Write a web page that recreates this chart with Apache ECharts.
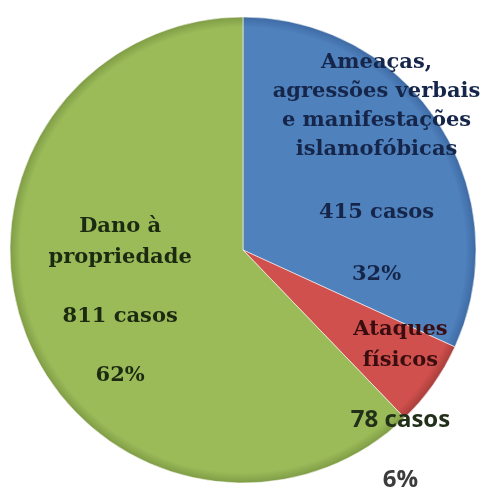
<!DOCTYPE html>
<html>
<head>
<meta charset="utf-8">
<script src="https://cdn.jsdelivr.net/npm/echarts@6/dist/echarts.min.js"></script>
<style>
  html, body { margin: 0; padding: 0; background: #ffffff; }
  #chart { width: 486px; height: 488px; }
</style>
</head>
<body>
<div id="chart"></div>
<script>
// Categories, case counts and shown percentages
const categories = [
  'Ameaças,\nagressões verbais\ne manifestações\nislamofóbicas',
  'Ataques\nfísicos',
  'Dano à\npropriedade'
];
const casos = [415, 78, 811];
const percentuais = ['32%', '6%', '62%'];

// Slice colours (base fill and darker rim)
const baseColors = ['#4f81bd', '#d0504d', '#9bbb59'];
const rimColors = ['#3e6aa3', '#a83e3b', '#7f9c45'];

// Per-slice label styling: nudge from the default inside position,
// line heights, text colours and the font used for the figures
const labelStyles = [
  { offset: [33, -16.5], lh: 29, gap: 33.5, nameColor: '#15264a', valColor: '#15264a', pctColor: '#15264a', valFont: 'DejaVu Serif', valSize: 21 },
  { offset: [60, 86], lh: 31, gap: 29, nameColor: '#3a0e10', valColor: '#22301a', pctColor: '#3c3c3c', valFont: 'Open Sans', valSize: 24 },
  { offset: [-12, 6], lh: 31, gap: 28, nameColor: '#1d2a12', valColor: '#1d2a12', pctColor: '#1d2a12', valFont: 'DejaVu Serif', valSize: 21 }
];

const CX = 243, CY = 250, R = 233;
const FONT_SIZE = 21;

const chart = echarts.init(document.getElementById('chart'), null, { renderer: 'canvas' });

const data = categories.map((name, i) => {
  const s = labelStyles[i];
  const lines = name.split('\n').map(t => '{n|' + t + '}');
  return {
    name: name,
    value: casos[i],
    itemStyle: {
      color: new echarts.graphic.RadialGradient(CX, CY, R, [
        { offset: 0, color: baseColors[i] },
        { offset: 0.955, color: baseColors[i] },
        { offset: 1, color: rimColors[i] }
      ], true)
    },
    label: {
      offset: s.offset,
      formatter: lines.join('\n') + '\n{b| }\n{v|' + casos[i] + ' casos}\n{b| }\n{p|' + percentuais[i] + '}',
      rich: {
        n: { fontFamily: 'DejaVu Serif', fontWeight: 'bold', fontSize: FONT_SIZE, lineHeight: s.lh, color: s.nameColor, align: 'center' },
        b: { fontSize: 4, lineHeight: s.gap },
        v: { fontFamily: s.valFont, fontWeight: 'bold', fontSize: s.valSize, lineHeight: s.lh, color: s.valColor, align: 'center' },
        p: { fontFamily: s.valFont, fontWeight: 'bold', fontSize: s.valSize, lineHeight: s.lh, color: s.pctColor, align: 'center' }
      }
    }
  };
});

chart.setOption({
  animation: false,
  backgroundColor: '#ffffff',
  series: [{
    type: 'pie',
    center: [CX, CY],
    radius: [0, R],
    startAngle: 90,
    clockwise: true,
    avoidLabelOverlap: false,
    labelLine: { show: false },
    itemStyle: { borderColor: 'rgba(255,255,255,0.55)', borderWidth: 1 },
    label: { show: true, position: 'inside', align: 'center' },
    data: data
  }]
});
</script>
</body>
</html>
